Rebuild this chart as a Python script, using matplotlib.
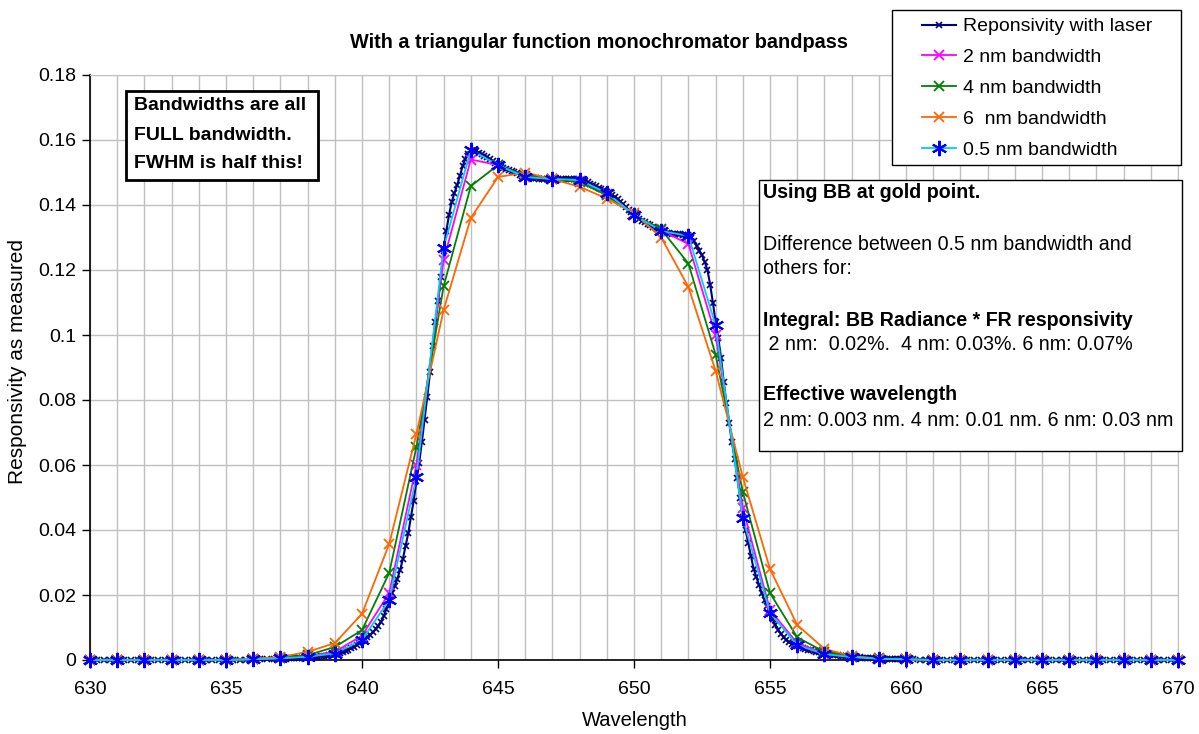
import numpy as np
import matplotlib.pyplot as plt
from matplotlib.patches import Rectangle
from matplotlib.ticker import MultipleLocator, FuncFormatter

plt.rcParams['font.family'] = ['Liberation Sans', 'DejaVu Sans']

# 1 nm grid for the bandwidth-convolved curves
wl = np.arange(630, 671)

bw05 = [0, 0, 0, 0, 0, 0, 0.0002, 0.0005, 0.001, 0.002,
        0.0062, 0.0185, 0.0563, 0.1268, 0.157, 0.1523, 0.1486, 0.148, 0.1477, 0.1437,
        0.137, 0.132, 0.1305, 0.103, 0.0437, 0.0145, 0.0046, 0.0018, 0.0009, 0.0004,
        0.0002, 0, 0, 0, 0, 0, 0, 0, 0, 0, 0]
bw2 = [0, 0, 0, 0, 0, 0, 0.0002, 0.0005, 0.0011, 0.0025,
       0.0075, 0.0206, 0.060, 0.123, 0.154, 0.1523, 0.1487, 0.148, 0.1475, 0.1435,
       0.137, 0.1322, 0.128, 0.100, 0.0468, 0.0154, 0.0052, 0.002, 0.001, 0.0004,
       0.0002, 0, 0, 0, 0, 0, 0, 0, 0, 0, 0]
bw4 = [0, 0, 0, 0, 0, 0, 0.0003, 0.0007, 0.0015, 0.004,
       0.0092, 0.0268, 0.0655, 0.115, 0.1458, 0.1523, 0.149, 0.148, 0.147, 0.143,
       0.137, 0.1325, 0.122, 0.094, 0.0517, 0.0206, 0.007, 0.0025, 0.001, 0.0005,
       0.0002, 0, 0, 0, 0, 0, 0, 0, 0, 0, 0]
bw6 = [0, 0, 0, 0, 0, 0, 0.0004, 0.0009, 0.0025, 0.0052,
       0.0142, 0.0357, 0.0695, 0.1077, 0.136, 0.1486, 0.150, 0.148, 0.1456, 0.142,
       0.1375, 0.130, 0.1148, 0.089, 0.0563, 0.028, 0.0108, 0.0034, 0.0012, 0.0004,
       0.0002, 0, 0, 0, 0, 0, 0, 0, 0, 0, 0]

# laser responsivity: 0.25 nm on the wings, 0.1 nm across the band
laser_x = np.concatenate([np.arange(630, 637, 0.25),
                          np.arange(637, 660, 0.1),
                          np.arange(660, 670.01, 0.25)])
laser_y = (
    [0, 0, 0, 0, 0, 0, 0, 0, 0, 0, 0, 0, 0, 0, 0, 0, 0, 0, 0, 0,
     0.0001, 0.0001, 0.0001, 0.0001, 0.0002, 0.0002, 0.0003, 0.0003]
    + [0.0004, 0.0004, 0.0004, 0.0005, 0.0005, 0.0005, 0.0006, 0.0006, 0.0007, 0.0007,
       0.0008, 0.0009, 0.0009, 0.0010, 0.0010, 0.0011, 0.0012, 0.0013, 0.0014, 0.0016,
       0.0018, 0.0020, 0.0022, 0.0025, 0.0028, 0.0032, 0.0036, 0.0040, 0.0045, 0.0051,
       0.0058, 0.0064, 0.0070, 0.0077, 0.0085, 0.0095, 0.0105, 0.0118, 0.0135, 0.0158,
       0.0185, 0.0205, 0.0228, 0.0250, 0.0277, 0.0310, 0.0350, 0.0390, 0.0440, 0.0490,
       0.0550, 0.0605, 0.0670, 0.0740, 0.0810, 0.0885, 0.0965, 0.1040, 0.1105, 0.1180,
       0.1260, 0.1320, 0.1370, 0.1410, 0.1437, 0.1462, 0.1490, 0.1520, 0.1542, 0.1556,
       0.1565, 0.1567, 0.1565, 0.1561, 0.1557, 0.1552, 0.1547, 0.1541, 0.1535, 0.1529,
       0.1523, 0.1518, 0.1514, 0.1510, 0.1507, 0.1504, 0.1501, 0.1497, 0.1493, 0.1490,
       0.1487, 0.1485, 0.1484, 0.1483, 0.1482, 0.1481, 0.1481, 0.1480, 0.1480, 0.1480,
       0.1480, 0.1480, 0.1480, 0.1480, 0.1480, 0.1480, 0.1480, 0.1479, 0.1479, 0.1479,
       0.1478, 0.1476, 0.1473, 0.1470, 0.1466, 0.1462, 0.1458, 0.1453, 0.1449, 0.1445,
       0.1441, 0.1436, 0.1431, 0.1425, 0.1418, 0.1410, 0.1402, 0.1394, 0.1386, 0.1378,
       0.1370, 0.1364, 0.1358, 0.1352, 0.1347, 0.1343, 0.1338, 0.1333, 0.1329, 0.1325,
       0.1321, 0.1318, 0.1315, 0.1313, 0.1312, 0.1311, 0.1310, 0.1310, 0.1309, 0.1309,
       0.1308, 0.1300, 0.1288, 0.1275, 0.1260, 0.1245, 0.1225, 0.1200, 0.1155, 0.1100,
       0.1040, 0.0990, 0.0930, 0.0855, 0.0790, 0.0730, 0.0670, 0.0620, 0.0560, 0.0500,
       0.0440, 0.0400, 0.0360, 0.0320, 0.0280, 0.0255, 0.0230, 0.0205, 0.0185, 0.0165,
       0.0145, 0.0125, 0.0108, 0.0093, 0.0080, 0.0070, 0.0062, 0.0055, 0.0050, 0.0047,
       0.0044, 0.0041, 0.0038, 0.0035, 0.0032, 0.0030, 0.0028, 0.0026, 0.0024, 0.0022,
       0.0020, 0.0019, 0.0017, 0.0016, 0.0015, 0.0014, 0.0013, 0.0012, 0.0011, 0.0010,
       0.0009, 0.0009, 0.0008, 0.0008, 0.0007, 0.0007, 0.0006, 0.0006, 0.0005, 0.0005,
       0.0005, 0.0004, 0.0004, 0.0004, 0.0003, 0.0003, 0.0003, 0.0003, 0.0002, 0.0002]
    + [0.0002, 0.0002, 0.0001, 0.0001, 0.0001, 0.0001, 0, 0, 0, 0,
       0, 0, 0, 0, 0, 0, 0, 0, 0, 0, 0, 0, 0, 0, 0, 0, 0, 0, 0, 0,
       0, 0, 0, 0, 0, 0, 0, 0, 0, 0, 0]
)

W, H = 1199, 734
fig = plt.figure(figsize=(W / 100, H / 100), dpi=100)
ax = fig.add_axes([90 / W, 1 - 660 / H, (1178 - 90) / W, (660 - 75) / H])

ax.plot(laser_x, laser_y, color='#000080', lw=1.5, marker='x', ms=4, mew=1.2,
        label='Reponsivity with laser', clip_on=False, zorder=3)
ax.plot(wl, bw2, color='#FF00FF', lw=1.3, marker='x', ms=7.5, mew=1.3,
        label='2 nm bandwidth', clip_on=False, zorder=4)
ax.plot(wl, bw4, color='#008000', lw=1.3, marker='x', ms=7.5, mew=1.3,
        label='4 nm bandwidth', clip_on=False, zorder=5)
ax.plot(wl, bw6, color='#FF6600', lw=1.3, marker='x', ms=7.5, mew=1.3,
        label='6  nm bandwidth', clip_on=False, zorder=6)
ax.plot(wl, bw05, color='#00CCFF', lw=1.3, marker=(6, 2, 0), ms=11, mew=1.5,
        mec='#0000FF', mfc='#0000FF', label='0.5 nm bandwidth', clip_on=False, zorder=7)

ax.set_xlim(630, 670)
ax.set_ylim(0, 0.18)
ax.xaxis.set_major_locator(MultipleLocator(5))
ax.xaxis.set_minor_locator(MultipleLocator(1))
ax.yaxis.set_major_locator(MultipleLocator(0.02))
ax.yaxis.set_major_formatter(FuncFormatter(lambda v, p: '%g' % round(v, 4)))
ax.grid(True, which='both', axis='x', color='#C0C0C0', lw=1)
ax.grid(True, which='major', axis='y', color='#C0C0C0', lw=1)
ax.set_axisbelow(True)
ax.tick_params(axis='both', which='major', direction='out', length=6, width=1,
               labelsize=14, color='black')
ax.tick_params(axis='x', which='minor', length=0)
ax.tick_params(axis='x', pad=9)
ax.tick_params(axis='y', pad=4)
for s in ['top', 'right']:
    ax.spines[s].set_color('#C0C0C0')
for s in ['left', 'bottom']:
    ax.spines[s].set_color('black')
    ax.spines[s].set_linewidth(1.2)

fig.text(635 / W, 1 - 720 / H, 'Wavelength', ha='center', va='center', fontsize=14.5)
fig.text(18 / W, 1 - 361 / H, 'Responsivity as measured', ha='center', va='center',
         rotation=90, fontsize=15)
fig.text(0.5, 1 - 43 / H, 'With a triangular function monochromator bandpass',
         ha='center', va='center', fontsize=14.3, fontweight='bold')


def fig_box(x0, y0, x1, y1, lw, z=8):
    fig.add_artist(Rectangle((x0 / W, 1 - y1 / H), (x1 - x0) / W, (y1 - y0) / H,
                             transform=fig.transFigure, facecolor='white',
                             edgecolor='black', lw=lw, zorder=z))


# legend frame drawn separately (wide left margin like the original)
fig_box(892, 10, 1181, 165, 1, z=9)
leg = fig.legend(loc='upper left', bbox_to_anchor=(916 / W, 1 - 12 / H),
                 bbox_transform=fig.transFigure, borderaxespad=0, fontsize=14,
                 frameon=False, handlelength=1.75, handletextpad=0.35,
                 labelspacing=0.68, borderpad=0.3)
leg.set_zorder(10)

fig_box(126, 91, 318, 180, 2)
for i, line in enumerate(['Bandwidths are all', 'FULL bandwidth.', 'FWHM is half this!']):
    fig.text(134 / W, 1 - (106 + 29 * i) / H, line, ha='left', va='center',
             fontsize=14, fontweight='bold', zorder=9)

fig_box(759, 180, 1182, 451, 1)
note_lines = [
    ('Using BB at gold point.', 'bold', 193),
    ('Difference between 0.5 nm bandwidth and', 'normal', 244),
    ('others for:', 'normal', 269),
    ('Integral: BB Radiance * FR responsivity', 'bold', 320),
    (' 2 nm:  0.02%.  4 nm: 0.03%. 6 nm: 0.07%', 'normal', 345),
    ('Effective wavelength', 'bold', 395),
    ('2 nm: 0.003 nm. 4 nm: 0.01 nm. 6 nm: 0.03 nm', 'normal', 420),
]
for text, weight, y in note_lines:
    fig.text(763 / W, 1 - y / H, text, ha='left', va='center', fontsize=14.1,
             fontweight=weight, zorder=9)

fig.savefig('out.png', dpi=100)
